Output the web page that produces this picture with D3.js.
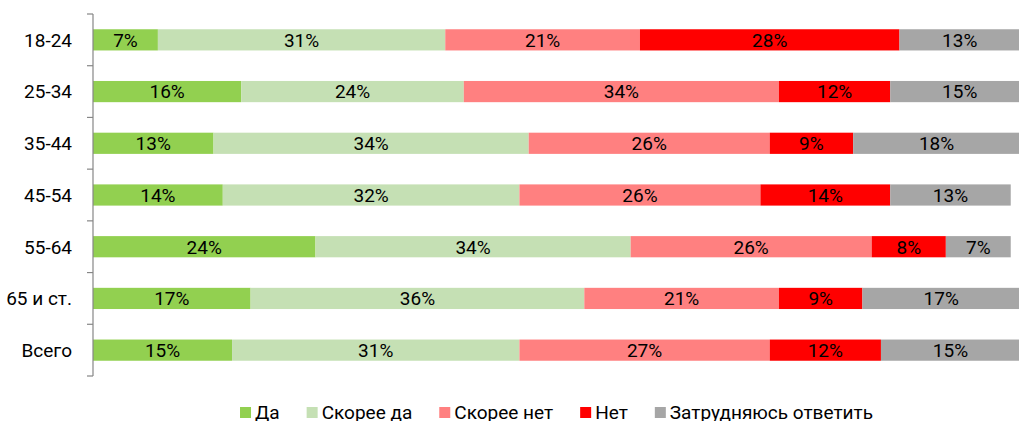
<!DOCTYPE html>
<html>
<head>
<meta charset="utf-8">
<script src="https://cdn.jsdelivr.net/npm/d3@7"></script>
<style>
	body { margin: 0; background: #fff; }
	svg { display: block; font-family: Roboto, "Noto Sans", sans-serif; }
</style>
</head>
<body>
<div id="chart"></div>
<script>
var ageGroups = ["18-24", "25-34", "35-44", "45-54", "55-64", "65 и ст.", "Всего"];
var answers = ["Да", "Скорее да", "Скорее нет", "Нет", "Затрудняюсь ответить"];
var answerColors = ["#92d050", "#c5e0b4", "#ff8080", "#ff0000", "#a6a6a6"];
// percent per age group, in answers order
var yesVals       = [7, 16, 13, 14, 24, 17, 15];
var ratherYesVals = [31, 24, 34, 32, 34, 36, 31];
var ratherNoVals  = [21, 34, 26, 26, 26, 21, 27];
var noVals        = [28, 12, 9, 14, 8, 9, 12];
var dontKnowVals  = [13, 15, 18, 13, 7, 17, 15];
var xTicks = [0, 100];

var width = 1019, height = 421;
var margin = {top: 14, left: 93, bottom: 45};

var svg = d3.select("#chart").append("svg")
	.attr("width", width)
	.attr("height", height);

var x = d3.scaleLinear().domain(xTicks).range([margin.left, 1020]);
var y = d3.scaleBand().domain(ageGroups)
	.range([margin.top, height - margin.bottom])
	.paddingInner(0.59).paddingOuter(0.295);

// build rows for the stack
var rows = ageGroups.map(function(g, i) {
	return {group: g, "Да": yesVals[i], "Скорее да": ratherYesVals[i], "Скорее нет": ratherNoVals[i],
		"Нет": noVals[i], "Затрудняюсь ответить": dontKnowVals[i]};
});
var series = d3.stack().keys(answers)(rows);

var layer = svg.append("g").selectAll("g")
	.data(series)
	.enter().append("g")
	.attr("fill", function(d, i) { return answerColors[i]; });

layer.selectAll("rect")
	.data(function(d) { return d; })
	.enter().append("rect")
	.attr("x", function(d) { return x(d[0]); })
	.attr("y", function(d) { return y(d.data.group); })
	.attr("width", function(d) { return x(d[1]) - x(d[0]); })
	.attr("height", y.bandwidth());

layer.selectAll("text")
	.data(function(d) { return d; })
	.enter().append("text")
	.attr("x", function(d) { return (x(d[0]) + x(d[1])) / 2; })
	.attr("y", function(d) { return y(d.data.group) + y.bandwidth() / 2; })
	.attr("dy", "0.36em")
	.attr("text-anchor", "middle")
	.attr("fill", "#000")
	.style("font-size", "19px")
	.text(function(d) { return (d[1] - d[0]) + "%"; });

// category axis with ticks between bands
var axis = svg.append("g");
axis.append("line")
	.attr("x1", margin.left).attr("x2", margin.left)
	.attr("y1", y.range()[0]).attr("y2", y.range()[1])
	.attr("stroke", "#868686").attr("stroke-width", 1.2);
var bounds = ageGroups.map(function(g) { return y(g) - y.step() * y.paddingInner() / 2; });
bounds.push(y.range()[1]);
axis.selectAll(".tick")
	.data(bounds)
	.enter().append("line")
	.attr("x1", margin.left - 6).attr("x2", margin.left)
	.attr("y1", function(d) { return d; }).attr("y2", function(d) { return d; })
	.attr("stroke", "#868686").attr("stroke-width", 1.2);
axis.selectAll("text")
	.data(ageGroups)
	.enter().append("text")
	.attr("x", margin.left - 21)
	.attr("y", function(d) { return y(d) + y.bandwidth() / 2; })
	.attr("dy", "0.36em")
	.attr("text-anchor", "end")
	.style("font-size", "19px")
	.attr("fill", "#000")
	.text(function(d) { return d; });

// legend, centered under plot
var legend = svg.append("g");
var items = legend.selectAll("g")
	.data(answers)
	.enter().append("g");
items.append("rect")
	.attr("y", 407).attr("width", 11).attr("height", 11)
	.attr("fill", function(d, i) { return answerColors[i]; });
items.append("text")
	.attr("x", 15).attr("y", 419)
	.style("font-size", "19px")
	.attr("fill", "#000")
	.text(function(d) { return d; });
var pos = 0;
items.each(function() {
	var w = this.getBBox().width;
	d3.select(this).attr("transform", "translate(" + pos + ",0)");
	pos += w + 27;
});
pos -= 27;
legend.attr("transform", "translate(" + ((x.range()[0] + x.range()[1]) / 2 - pos / 2) + ",0)");
</script>
</body>
</html>
